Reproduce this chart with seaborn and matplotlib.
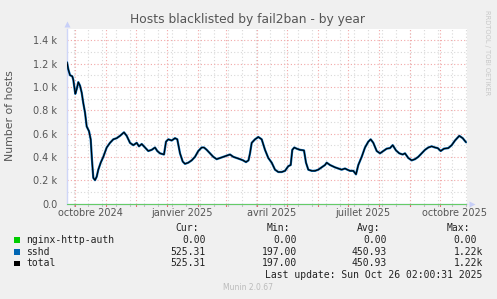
import matplotlib
matplotlib.use("Agg")
import matplotlib.pyplot as plt
from matplotlib.patches import Rectangle
import seaborn as sns
import pandas as pd

# ---------------- data ----------------
start_date = "2024-09-23"
span_days = 400
day_offsets = [0, 1.3, 3, 5.3, 6.3, 8.3, 9.7, 11.3, 13, 14.7, 16.3, 18, 19.7, 22, 23.7, 25,
               26.3, 28, 29.7, 31.3, 33.7, 36.3, 39.7, 43, 46.3, 49.7, 53, 57, 59.7, 63,
               66.3, 69.7, 72, 74.7, 78, 81.3, 84.7, 88, 90.3, 93, 97, 99, 101.3, 104.7,
               108, 110.3, 113, 115.7, 118, 121.3, 124.7, 128, 131.3, 134.7, 137, 139.7,
               143, 146.3, 149.7, 153, 156.3, 159.7, 163, 166.3, 169.7, 173, 176, 179,
               181.5, 183, 184.7, 188, 191.3, 194.7, 198, 201.3, 204.7, 208, 211.3, 214.7,
               218, 221.3, 223.7, 225.3, 227.3, 229.7, 233, 237, 239, 241.3, 244.7, 248,
               251.3, 254.7, 258, 259.7, 263, 268, 271.3, 274.7, 278, 280.3, 283, 286.3,
               289, 291.3, 294.7, 298, 301.3, 303.7, 306.3, 309.7, 313, 316.3, 319.7, 323,
               325.7, 329, 332.3, 335.7, 338, 341.3, 344.7, 348, 351.3, 354.7, 358, 361.3,
               364.7, 368, 370.7, 373.7, 377, 381.3, 384.7, 388, 392.3, 395.7, 399]
total_hosts = [1210, 1150, 1100, 1090, 1060, 940, 980, 1040, 1010, 950, 860, 780, 660, 620,
               550, 370, 220, 200, 230, 290, 350, 400, 480, 520, 550, 560, 580, 610, 580,
               520, 500, 520, 490, 510, 480, 450, 460, 480, 450, 430, 420, 530, 550, 540,
               560, 550, 430, 360, 340, 350, 370, 400, 450, 480, 480, 460, 430, 400, 380,
               390, 400, 410, 420, 400, 390, 380, 370, 355, 370, 430, 520, 550, 570, 550,
               460, 390, 350, 290, 270, 270, 280, 320, 330, 460, 480, 470, 460, 455, 350,
               290, 280, 280, 290, 310, 330, 350, 330, 310, 300, 290, 300, 290, 280, 280,
               250, 330, 400, 480, 530, 550, 520, 450, 430, 450, 470, 475, 500, 455, 430,
               420, 430, 390, 370, 380, 400, 430, 460, 480, 490, 480, 475, 450, 470, 475,
               500, 540, 580, 560, 525]
sshd_hosts = list(total_hosts)
nginx_hosts = [0] * len(total_hosts)

series_names = ["nginx-http-auth", "sshd", "total"]
series_colors = ["#00CC00", "#0066B3", "#000000"]
cur_vals = [0.00, 525.31, 525.31]
min_vals = [0.00, 197.00, 197.00]
avg_vals = [0.00, 450.93, 450.93]
max_vals = [0.00, 1220.0, 1220.0]

y_ticks = [0, 200, 400, 600, 800, 1000, 1200, 1400]
y_tick_labels = ["0.0", "0.2 k", "0.4 k", "0.6 k", "0.8 k", "1.0 k", "1.2 k", "1.4 k"]
x_label_dates = ["2024-10-16", "2025-01-16", "2025-04-16", "2025-07-16", "2025-10-16"]
x_labels = ["octobre 2024", "janvier 2025", "avril 2025", "juillet 2025", "octobre 2025"]

title = "Hosts blacklisted by fail2ban - by year"
y_title = "Number of hosts"
last_update = "Last update: Sun Oct 26 02:00:31 2025"

# ---------------- frame ----------------
t0 = pd.Timestamp(start_date)
dates = t0 + pd.to_timedelta(day_offsets, unit="D")
df = pd.DataFrame({"date": dates, "total": total_hosts, "sshd": sshd_hosts,
                   "nginx": nginx_hosts})

sns.set_style("white")
plt.rcParams["font.family"] = ["DejaVu Sans"]

W, H = 497, 299
fig = plt.figure(figsize=(W / 100, H / 100), dpi=100, facecolor="#F0F0F0")

def fx(px):
    return px / W

def fy(py):
    return 1 - py / H

ax_left, ax_right, ax_top, ax_bot = 67, 467, 28.5, 203.5
ax_h = ax_bot - ax_top
ax = fig.add_axes([fx(ax_left), fy(ax_bot), (ax_right - ax_left) / W, ax_h / H])
ax.set_facecolor("white")

xmax = t0 + pd.Timedelta(days=span_days)
ax.set_xlim(t0, xmax)
ax.set_ylim(0, 1500)

minor_col = "#D8D8D8"
major_col = "#F2A8A8"
dots = (0, (1, 2))

for v in range(100, 1500, 200):
    ax.axhline(v, color=minor_col, lw=0.8, ls=dots, zorder=0.5)
for d in pd.date_range("2024-09-30", xmax, freq="14D"):
    ax.axvline(d, color=minor_col, lw=0.8, ls=dots, zorder=0.5)
    ax.axvline(d, ymin=-2 / ax_h, ymax=0, color="#BBBBBB", lw=0.8, clip_on=False)
for v in y_ticks[1:]:
    ax.axhline(v, color=major_col, lw=0.8, ls=dots, zorder=0.6)
for d in pd.date_range("2024-10-01", xmax, freq="MS"):
    ax.axvline(d, color=major_col, lw=0.8, ls=dots, zorder=0.6)
    ax.axvline(d, ymin=-2.5 / ax_h, ymax=0, color="#E06060", lw=0.8, clip_on=False)

sns.lineplot(data=df, x="date", y="sshd", ax=ax, color=series_colors[1], lw=1.6,
             zorder=3, legend=False)
sns.lineplot(data=df, x="date", y="total", ax=ax, color=series_colors[2], lw=0.8,
             zorder=4, legend=False)
sns.lineplot(data=df, x="date", y="nginx", ax=ax, color="#66CC66", lw=0.8,
             zorder=5, legend=False, clip_on=False)

for s in ["top", "right"]:
    ax.spines[s].set_visible(False)
for s in ["left", "bottom"]:
    ax.spines[s].set_color("#CFD6F8")
    ax.spines[s].set_linewidth(1)

ax.plot([0], [1.025], marker="^", ms=5, color="#C8D0F8", transform=ax.transAxes,
        clip_on=False, mec="none")
ax.plot([1.013], [0], marker=">", ms=5, color="#C8D0F8", transform=ax.transAxes,
        clip_on=False, mec="none")

txt_col = "#555555"
ax.set_yticks(y_ticks)
ax.set_yticklabels(y_tick_labels)
ax.tick_params(axis="y", length=0, pad=7, labelsize=7, labelcolor=txt_col)
ax.set_xticks([])
ax.set_xlabel("")
ax.set_ylabel("")
for d, lab in zip(x_label_dates, x_labels):
    ax.text(pd.Timestamp(d), -9 / ax_h, lab, transform=ax.get_xaxis_transform(),
            ha="center", va="center", fontsize=7, color=txt_col)

fig.text(fx(248), fy(19), title, ha="center", va="center", fontsize=8.8, color=txt_col)
fig.text(fx(10), fy(116), y_title, ha="center", va="center", rotation=90,
         fontsize=7.8, color=txt_col)
fig.text(fx(487), fy(53), "RRDTOOL / TOBI OETIKER", ha="center", va="center",
         rotation=270, fontsize=4.8, color="#C8C8C8")

mono = "DejaVu Sans Mono"
lfs = 7
cw = 5.9
leg_col = "#222222"

def fmt(v):
    if v >= 1000:
        return f"{v / 1000:.2f}k"
    return f"{v:.2f}"

headers = ["Cur:", "Min:", "Avg:", "Max:"]
head_right = [199, 290, 380, 470]
val_right = [205.7, 296.7, 386.7, 477]
for h, xr in zip(headers, head_right):
    fig.text(fx(xr), fy(228), h, ha="right", va="center", fontsize=lfs,
             family=mono, color=leg_col)
row_y = [240, 252, 263.5]
for i, name in enumerate(series_names):
    y = row_y[i]
    fig.patches.append(Rectangle((fx(14), fy(y + 2.8)), 5.5 / W, 5.5 / H,
                                 transform=fig.transFigure, facecolor=series_colors[i],
                                 edgecolor="none"))
    fig.text(fx(26), fy(y), name, ha="left", va="center", fontsize=lfs, family=mono,
             color=leg_col)
    for vals, xr in zip([cur_vals, min_vals, avg_vals, max_vals], val_right):
        s = fmt(vals[i])
        off = cw if s.endswith("k") else 0
        fig.text(fx(xr + off), fy(y), s, ha="right", va="center", fontsize=lfs,
                 family=mono, color=leg_col)
fig.text(fx(482), fy(275.5), last_update, ha="right", va="center", fontsize=lfs,
         family=mono, color=leg_col)
fig.text(fx(248), fy(288), "Munin 2.0.67", ha="center", va="center", fontsize=5.5,
         color="#BBBBBB")

fig.savefig("out.png", dpi=100, facecolor=fig.get_facecolor())
